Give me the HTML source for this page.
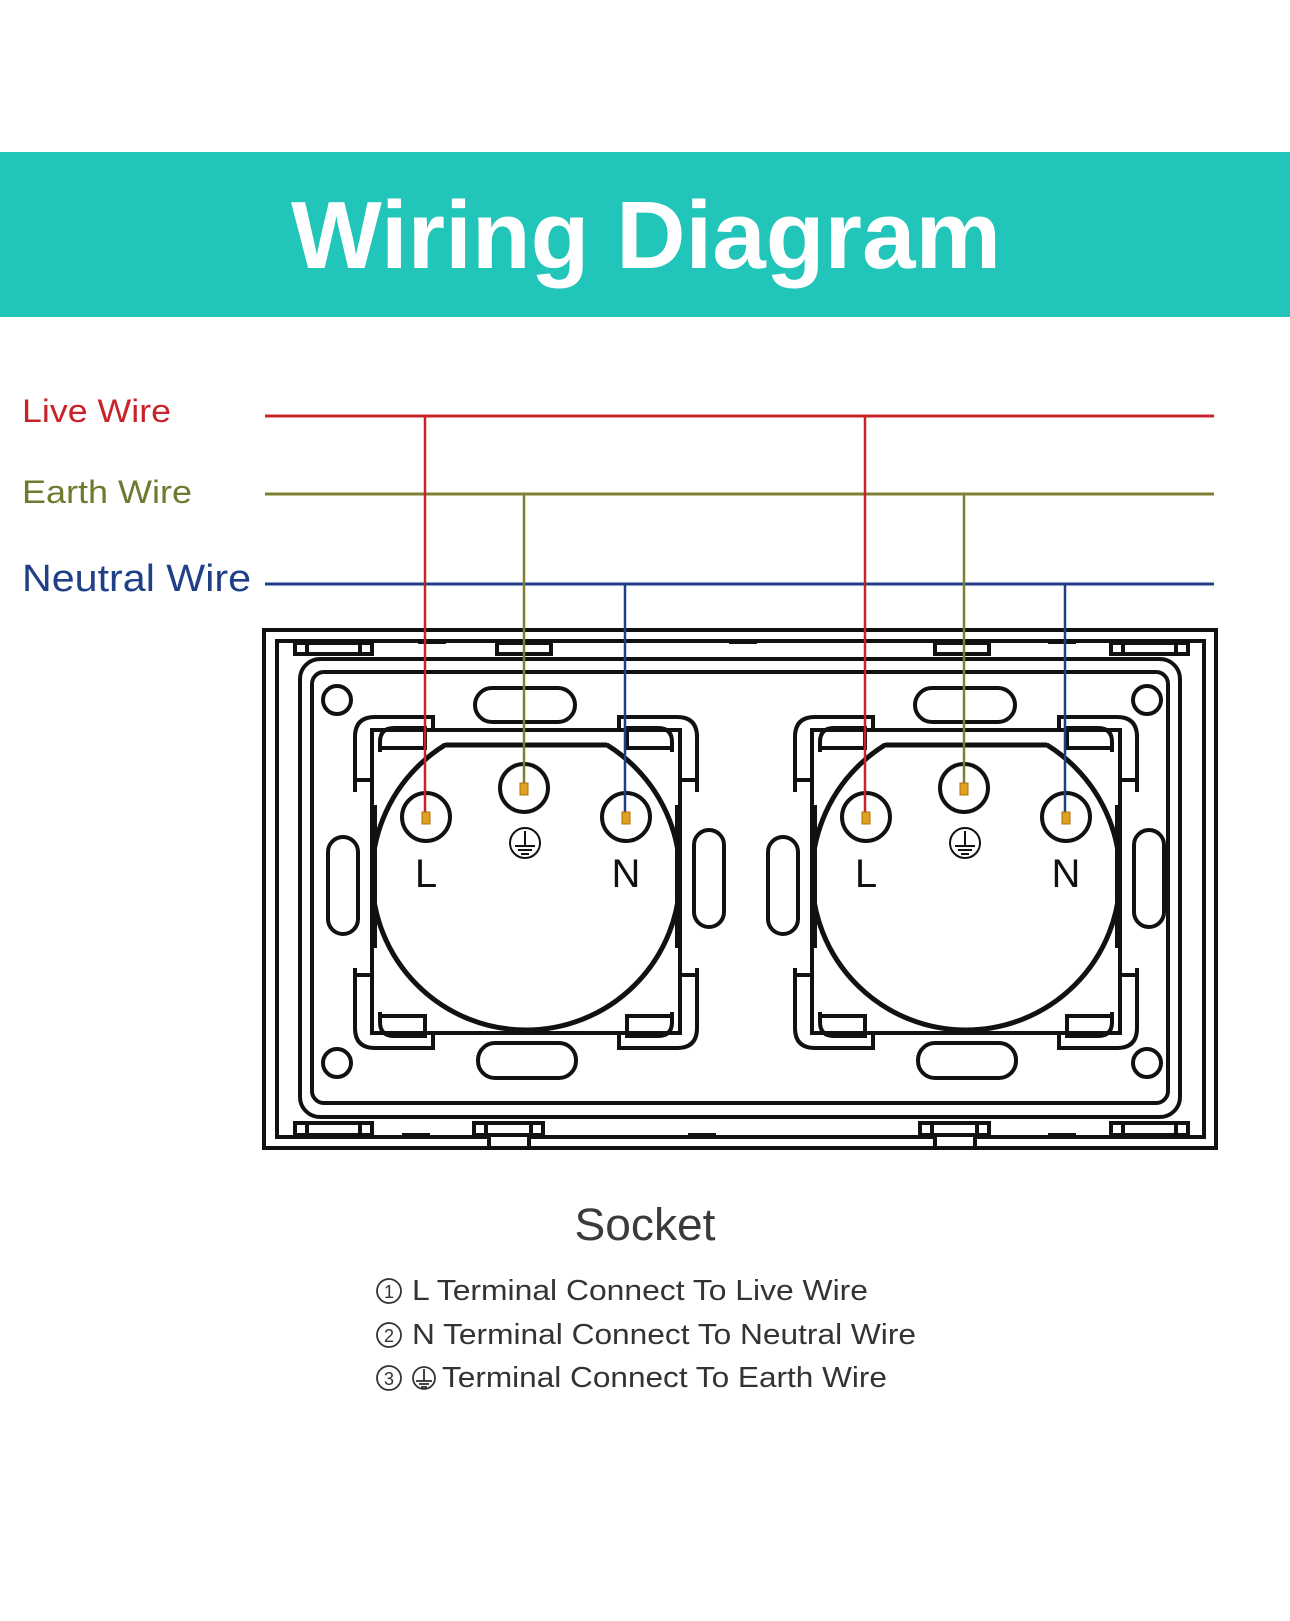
<!DOCTYPE html>
<html><head><meta charset="utf-8"><style>
html,body{margin:0;padding:0;background:#fff;}
svg{display:block;}
text{font-family:"Liberation Sans",sans-serif;}
</style></head><body>
<svg width="1290" height="1621" viewBox="0 0 1290 1621" xmlns="http://www.w3.org/2000/svg">
<rect width="1290" height="1621" fill="#fff"/>
<rect x="0" y="152" width="1290" height="165" fill="#22c5b9"/>
<text x="646" y="268" text-anchor="middle" font-size="96" font-weight="bold" fill="#fff" textLength="710" lengthAdjust="spacingAndGlyphs">Wiring Diagram</text>

<text x="22" y="422" font-size="32" fill="#c8232b" textLength="149" lengthAdjust="spacingAndGlyphs">Live Wire</text>
<text x="22" y="503" font-size="32" fill="#6f7a2e" textLength="170" lengthAdjust="spacingAndGlyphs">Earth Wire</text>
<text x="22" y="591" font-size="38" fill="#1f3f87" textLength="229" lengthAdjust="spacingAndGlyphs">Neutral Wire</text>

<g fill="none" stroke-width="3">
<line x1="265" y1="416" x2="1214" y2="416" stroke="#c8232b"/>
<line x1="265" y1="494" x2="1214" y2="494" stroke="#7b8032"/>
<line x1="265" y1="584" x2="1214" y2="584" stroke="#1f3f87"/>
</g>

<g fill="none" stroke="#111" stroke-width="4">
<rect x="264" y="630" width="952" height="518"/>
<rect x="277" y="641" width="927" height="496"/>
<rect x="300" y="659" width="880" height="458" rx="20"/>
<rect x="312" y="672" width="856" height="431" rx="12"/>
<rect x="295" y="643" width="77" height="11"/>
<line x1="307" y1="643" x2="307" y2="654"/><line x1="360" y1="643" x2="360" y2="654"/>
<rect x="497" y="643" width="54" height="11"/>
<rect x="935" y="643" width="54" height="11"/>
<rect x="1111" y="643" width="77" height="11"/>
<line x1="1123" y1="643" x2="1123" y2="654"/><line x1="1176" y1="643" x2="1176" y2="654"/>
<rect x="295" y="1123" width="77" height="12"/>
<line x1="307" y1="1123" x2="307" y2="1135"/><line x1="360" y1="1123" x2="360" y2="1135"/>
<rect x="474" y="1123" width="69" height="12"/>
<line x1="486" y1="1123" x2="486" y2="1135"/><line x1="531" y1="1123" x2="531" y2="1135"/>
<rect x="489" y="1135" width="40" height="13" fill="#fff"/>
<rect x="920" y="1123" width="69" height="12"/>
<line x1="932" y1="1123" x2="932" y2="1135"/><line x1="977" y1="1123" x2="977" y2="1135"/>
<rect x="935" y="1135" width="40" height="13" fill="#fff"/>
<rect x="1111" y="1123" width="77" height="12"/>
<line x1="1123" y1="1123" x2="1123" y2="1135"/><line x1="1176" y1="1123" x2="1176" y2="1135"/>
</g>
<g fill="#111">
<rect x="418" y="640" width="28" height="4"/><rect x="729" y="640" width="28" height="4"/><rect x="1048" y="640" width="28" height="4"/>
<rect x="402" y="1133" width="28" height="4"/><rect x="688" y="1133" width="28" height="4"/><rect x="1048" y="1133" width="28" height="4"/>
</g>

<clipPath id="cp1"><rect x="372" y="743" width="308" height="300"/></clipPath>

<g id="m1">
<g fill="none" stroke="#111" stroke-width="4">
<circle cx="337" cy="700" r="14"/>
<circle cx="337" cy="1063" r="14"/>
<path d="M355,792 V737 Q355,717 375,717 H433 V732"/>
<path d="M697,792 V737 Q697,717 677,717 H619 V732"/>
<path d="M355,968 V1028 Q355,1048 375,1048 H433 V1033"/>
<path d="M697,968 V1028 Q697,1048 677,1048 H619 V1033"/>
<line x1="355" y1="780" x2="372" y2="780"/><line x1="680" y1="780" x2="697" y2="780"/>
<line x1="355" y1="975" x2="372" y2="975"/><line x1="680" y1="975" x2="697" y2="975"/>
<rect x="372" y="730" width="308" height="303"/>
<path d="M380,752 V742 Q380,728 394,728 H425 V748 H380"/>
<path d="M672,752 V742 Q672,728 658,728 H627 V748 H672"/>
<path d="M380,1012 V1022 Q380,1036 394,1036 H425 V1016 H380"/>
<path d="M672,1012 V1022 Q672,1036 658,1036 H627 V1016 H672"/>
<rect x="475" y="688" width="100" height="34" rx="17"/>
<rect x="478" y="1043" width="98" height="35" rx="17"/>
<rect x="328" y="837" width="30" height="97" rx="15"/>
<rect x="694" y="830" width="30" height="97" rx="15"/>
</g>
<circle cx="526" cy="876" r="154" fill="#fff" stroke="#111" stroke-width="5" clip-path="url(#cp1)"/>
<line x1="445" y1="745" x2="607" y2="745" stroke="#111" stroke-width="5"/>
<line x1="374" y1="805" x2="374" y2="948" stroke="#111" stroke-width="6"/>
<line x1="678" y1="805" x2="678" y2="948" stroke="#111" stroke-width="6"/>
<g fill="#fff" stroke="#111" stroke-width="4">
<circle cx="426" cy="817" r="24"/>
<circle cx="524" cy="788" r="24"/>
<circle cx="626" cy="817" r="24"/>
</g>
<g fill="none" stroke="#111" stroke-width="2">
<circle cx="525" cy="843" r="15"/>
<line x1="525" y1="831" x2="525" y2="846"/>
<line x1="515" y1="846" x2="535" y2="846"/>
<line x1="518" y1="850" x2="532" y2="850"/>
<line x1="521" y1="854" x2="529" y2="854"/>
</g>
<text x="426" y="887" text-anchor="middle" font-size="40" fill="#111">L</text>
<text x="626" y="887" text-anchor="middle" font-size="40" fill="#111">N</text>
</g>

<g transform="translate(440,0)">
<g fill="none" stroke="#111" stroke-width="4">
<circle cx="707" cy="700" r="14"/>
<circle cx="707" cy="1063" r="14"/>
<path d="M355,792 V737 Q355,717 375,717 H433 V732"/>
<path d="M697,792 V737 Q697,717 677,717 H619 V732"/>
<path d="M355,968 V1028 Q355,1048 375,1048 H433 V1033"/>
<path d="M697,968 V1028 Q697,1048 677,1048 H619 V1033"/>
<line x1="355" y1="780" x2="372" y2="780"/><line x1="680" y1="780" x2="697" y2="780"/>
<line x1="355" y1="975" x2="372" y2="975"/><line x1="680" y1="975" x2="697" y2="975"/>
<rect x="372" y="730" width="308" height="303"/>
<path d="M380,752 V742 Q380,728 394,728 H425 V748 H380"/>
<path d="M672,752 V742 Q672,728 658,728 H627 V748 H672"/>
<path d="M380,1012 V1022 Q380,1036 394,1036 H425 V1016 H380"/>
<path d="M672,1012 V1022 Q672,1036 658,1036 H627 V1016 H672"/>
<rect x="475" y="688" width="100" height="34" rx="17"/>
<rect x="478" y="1043" width="98" height="35" rx="17"/>
<rect x="328" y="837" width="30" height="97" rx="15"/>
<rect x="694" y="830" width="30" height="97" rx="15"/>
</g>
<circle cx="526" cy="876" r="154" fill="#fff" stroke="#111" stroke-width="5" clip-path="url(#cp1)"/>
<line x1="445" y1="745" x2="607" y2="745" stroke="#111" stroke-width="5"/>
<line x1="374" y1="805" x2="374" y2="948" stroke="#111" stroke-width="6"/>
<line x1="678" y1="805" x2="678" y2="948" stroke="#111" stroke-width="6"/>
<g fill="#fff" stroke="#111" stroke-width="4">
<circle cx="426" cy="817" r="24"/>
<circle cx="524" cy="788" r="24"/>
<circle cx="626" cy="817" r="24"/>
</g>
<g fill="none" stroke="#111" stroke-width="2">
<circle cx="525" cy="843" r="15"/>
<line x1="525" y1="831" x2="525" y2="846"/>
<line x1="515" y1="846" x2="535" y2="846"/>
<line x1="518" y1="850" x2="532" y2="850"/>
<line x1="521" y1="854" x2="529" y2="854"/>
</g>
<text x="426" y="887" text-anchor="middle" font-size="40" fill="#111">L</text>
<text x="626" y="887" text-anchor="middle" font-size="40" fill="#111">N</text>
</g>

<g stroke-width="2.5">
<line x1="425" y1="416" x2="425" y2="812" stroke="#c8232b"/>
<line x1="524" y1="494" x2="524" y2="783" stroke="#7b8032"/>
<line x1="625" y1="584" x2="625" y2="812" stroke="#1f3f87"/>
<line x1="865" y1="416" x2="865" y2="812" stroke="#c8232b"/>
<line x1="964" y1="494" x2="964" y2="783" stroke="#7b8032"/>
<line x1="1065" y1="584" x2="1065" y2="812" stroke="#1f3f87"/>
</g>
<g fill="#e0a020" stroke="#b07010" stroke-width="1">
<rect x="422" y="812" width="8" height="12"/>
<rect x="520" y="783" width="8" height="12"/>
<rect x="622" y="812" width="8" height="12"/>
<rect x="862" y="812" width="8" height="12"/>
<rect x="960" y="783" width="8" height="12"/>
<rect x="1062" y="812" width="8" height="12"/>
</g>

<text x="645" y="1240" text-anchor="middle" font-size="45" fill="#3a3a3a" textLength="141" lengthAdjust="spacingAndGlyphs">Socket</text>
<g fill="none" stroke="#333" stroke-width="1.8">
<circle cx="389" cy="1291" r="12"/><circle cx="389" cy="1335" r="12"/><circle cx="389" cy="1378" r="12"/>
<circle cx="424" cy="1378" r="11"/>
<line x1="424" y1="1369" x2="424" y2="1381"/>
<line x1="416" y1="1381" x2="432" y2="1381"/>
<line x1="419" y1="1384" x2="429" y2="1384"/>
<line x1="421" y1="1387" x2="427" y2="1387"/>
</g>
<g font-size="18" fill="#333" text-anchor="middle">
<text x="389" y="1298">1</text><text x="389" y="1342">2</text><text x="389" y="1385">3</text>
</g>
<g font-size="29" fill="#333">
<text x="412" y="1300" textLength="456" lengthAdjust="spacingAndGlyphs">L Terminal Connect To Live Wire</text>
<text x="412" y="1344" textLength="504" lengthAdjust="spacingAndGlyphs">N Terminal Connect To Neutral Wire</text>
<text x="442" y="1387" textLength="445" lengthAdjust="spacingAndGlyphs">Terminal Connect To Earth Wire</text>
</g>
</svg>
</body></html>
